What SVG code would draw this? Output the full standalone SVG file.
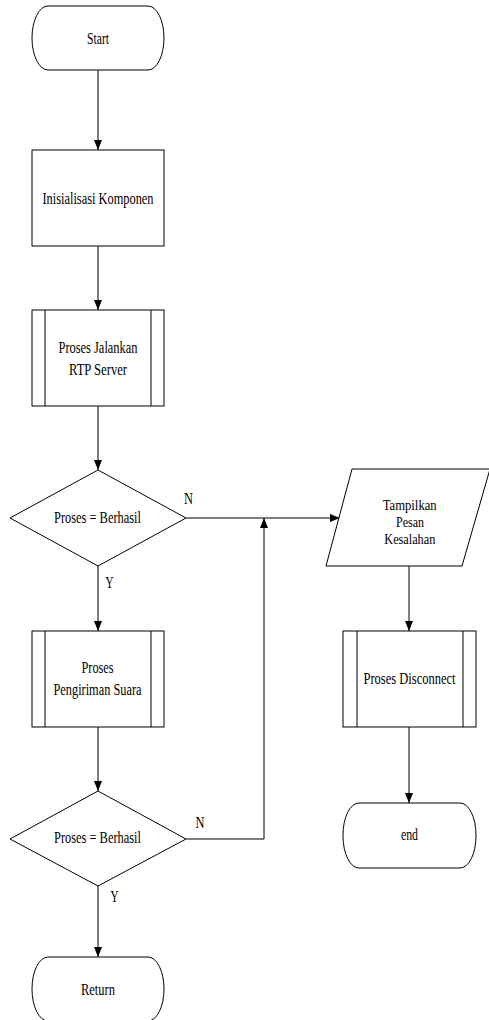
<svg xmlns="http://www.w3.org/2000/svg" width="489" height="1020" viewBox="0 0 489 1020">
<style>
.shape{fill:#fff;stroke:#000;stroke-width:1}
.inner{fill:none;stroke:#000;stroke-width:1}
.conn{fill:none;stroke:#000;stroke-width:1}
text{font-family:"Liberation Serif","Times New Roman",serif;font-size:17px;fill:#000;text-anchor:middle}
text.sm{font-size:15px}
</style>
<defs>
<marker id="arr" markerUnits="userSpaceOnUse" markerWidth="10" markerHeight="8" refX="10" refY="4" orient="auto">
<path d="M0,0 L10,4 L0,8 Z" fill="#000"/>
</marker>
</defs>
<rect width="489" height="1020" fill="#fff"/>
<g id="connectors">
<line class="conn" x1="98" y1="70" x2="98" y2="150" marker-end="url(#arr)"/>
<line class="conn" x1="98" y1="246" x2="98" y2="310" marker-end="url(#arr)"/>
<line class="conn" x1="98" y1="406" x2="98" y2="470" marker-end="url(#arr)"/>
<line class="conn" x1="98" y1="566" x2="98" y2="631" marker-end="url(#arr)"/>
<line class="conn" x1="98" y1="727" x2="98" y2="791" marker-end="url(#arr)"/>
<line class="conn" x1="98" y1="886" x2="98" y2="957" marker-end="url(#arr)"/>
<line class="conn" x1="186" y1="518" x2="340" y2="518" marker-end="url(#arr)"/>
<polyline class="conn" points="186,839 264,839 264,518" marker-end="url(#arr)"/>
<line class="conn" x1="409" y1="566" x2="409" y2="631" marker-end="url(#arr)"/>
<line class="conn" x1="409" y1="727" x2="409" y2="803" marker-end="url(#arr)"/>
<text x="188.5" y="504" textLength="9" lengthAdjust="spacingAndGlyphs">N</text>
<text x="109.5" y="588" textLength="8" lengthAdjust="spacingAndGlyphs">Y</text>
<text x="200" y="828" textLength="9" lengthAdjust="spacingAndGlyphs">N</text>
<text x="114.5" y="902" textLength="8" lengthAdjust="spacingAndGlyphs">Y</text>
</g>
<g id="start">
<rect class="shape" x="32" y="6" width="132" height="64" rx="16" ry="32"/>
<text x="98" y="44" textLength="22" lengthAdjust="spacingAndGlyphs">Start</text>
</g>
<g id="inisialisasi">
<rect class="shape" x="32" y="150" width="132" height="96"/>
<text x="98" y="204" textLength="111" lengthAdjust="spacingAndGlyphs">Inisialisasi Komponen</text>
</g>
<g id="jalankan">
<rect class="shape" x="32" y="310" width="132" height="96"/>
<line class="inner" x1="45" y1="310" x2="45" y2="406"/>
<line class="inner" x1="151" y1="310" x2="151" y2="406"/>
<text x="98" y="353" textLength="79" lengthAdjust="spacingAndGlyphs">Proses Jalankan</text>
<text x="98" y="375" textLength="58" lengthAdjust="spacingAndGlyphs">RTP Server</text>
</g>
<g id="decision1">
<polygon class="shape" points="98,470 186,518 98,566 10,518"/>
<text x="97.5" y="523" textLength="87" lengthAdjust="spacingAndGlyphs">Proses = Berhasil</text>
</g>
<g id="pengiriman">
<rect class="shape" x="32" y="631" width="132" height="96"/>
<line class="inner" x1="45" y1="631" x2="45" y2="727"/>
<line class="inner" x1="151" y1="631" x2="151" y2="727"/>
<text x="97.5" y="673" textLength="32" lengthAdjust="spacingAndGlyphs">Proses</text>
<text x="97.5" y="695" textLength="88" lengthAdjust="spacingAndGlyphs">Pengiriman Suara</text>
</g>
<g id="decision2">
<polygon class="shape" points="98,791 186,839 98,886 10,839"/>
<text x="97.5" y="843" textLength="87" lengthAdjust="spacingAndGlyphs">Proses = Berhasil</text>
</g>
<g id="return">
<rect class="shape" x="32" y="957" width="132" height="64" rx="16" ry="32"/>
<text x="98" y="995" textLength="34" lengthAdjust="spacingAndGlyphs">Return</text>
</g>
<g id="tampilkan">
<polygon class="shape" points="352,469 490,469 462,566 326,566"/>
<text class="sm" x="409.7" y="510" textLength="54" lengthAdjust="spacingAndGlyphs">Tampilkan</text>
<text class="sm" x="410" y="527" textLength="28" lengthAdjust="spacingAndGlyphs">Pesan</text>
<text class="sm" x="409.8" y="544" textLength="51" lengthAdjust="spacingAndGlyphs">Kesalahan</text>
</g>
<g id="disconnect">
<rect class="shape" x="343" y="631" width="133" height="96"/>
<line class="inner" x1="357" y1="631" x2="357" y2="727"/>
<line class="inner" x1="463" y1="631" x2="463" y2="727"/>
<text x="409.5" y="684" textLength="92" lengthAdjust="spacingAndGlyphs">Proses Disconnect</text>
</g>
<g id="end">
<rect class="shape" x="343" y="803" width="133" height="65" rx="16" ry="32"/>
<text x="409.5" y="840" textLength="17" lengthAdjust="spacingAndGlyphs">end</text>
</g>
</svg>
